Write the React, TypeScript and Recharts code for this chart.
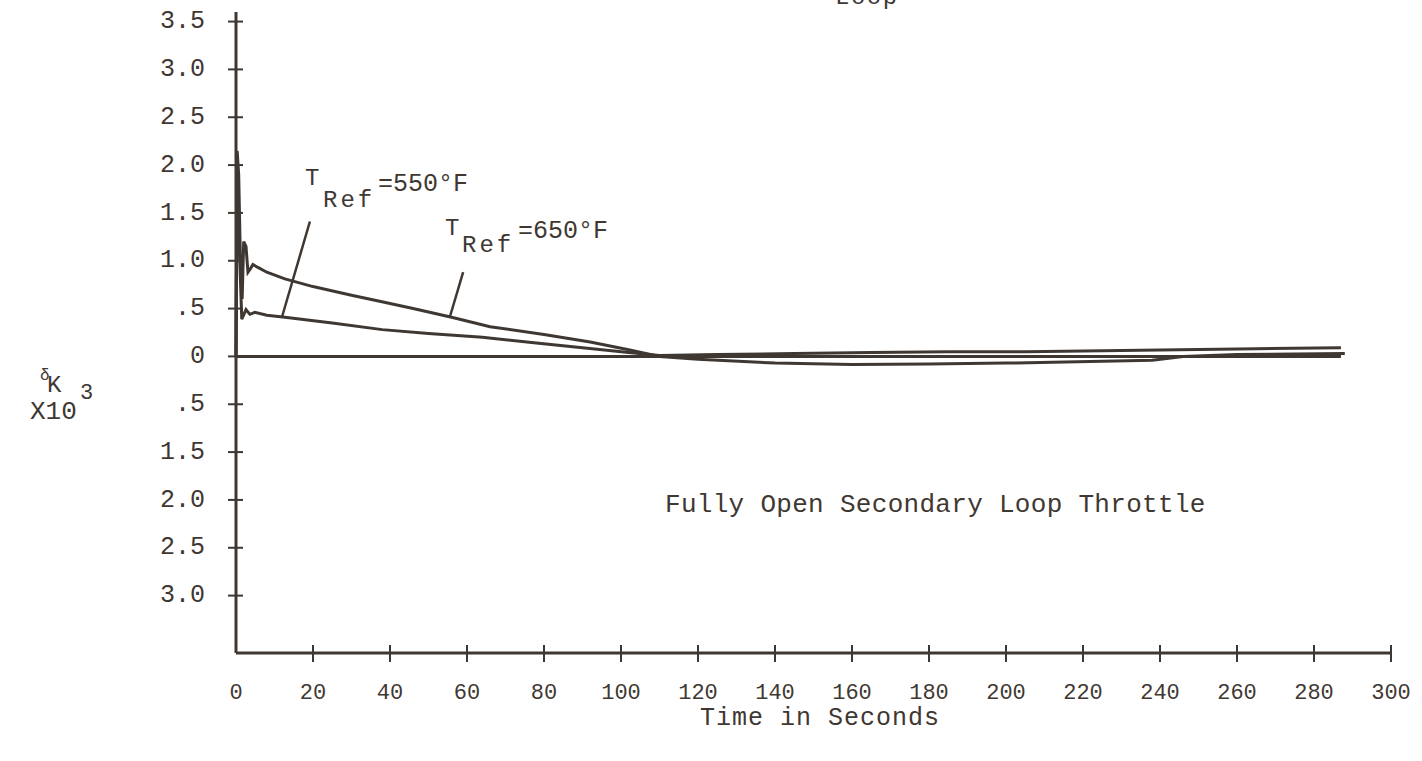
import { LineChart, Line, XAxis, YAxis, ReferenceLine } from "recharts";

// time (s) and delta-K (x10^3)
const time650 = [0, 0.3, 0.7, 1.2, 1.6, 2.0, 2.6, 3.1, 3.8, 4.4, 5.7, 8, 12.7, 20, 30, 37, 46, 56, 66, 80, 92, 102, 110, 120, 140, 160, 180, 200, 225, 238, 246, 260, 288];
const dk650 = [0, 2.15, 1.9, 0.9, 0.6, 1.2, 1.15, 0.88, 0.92, 0.96, 0.93, 0.88, 0.81, 0.73, 0.64, 0.58, 0.5, 0.41, 0.31, 0.23, 0.15, 0.07, 0.0, -0.03, -0.07, -0.085, -0.08, -0.07, -0.05, -0.04, 0.0, 0.02, 0.03];

const time550 = [0, 0.3, 0.8, 1.5, 2.6, 3.6, 4.9, 8, 12.7, 25, 38, 50, 64, 78, 90, 102, 110, 125, 145, 165, 185, 205, 225, 245, 265, 287];
const dk550 = [0, 2.1, 1.2, 0.39, 0.49, 0.44, 0.46, 0.43, 0.41, 0.35, 0.28, 0.24, 0.2, 0.14, 0.09, 0.04, 0.01, 0.02, 0.03, 0.04, 0.05, 0.05, 0.06, 0.07, 0.08, 0.09];

const xTicks = [0, 20, 40, 60, 80, 100, 120, 140, 160, 180, 200, 220, 240, 260, 280, 300];
// the original sheet labels the negative side oddly; kept as printed
const yTicks = [-2.5, -2, -1.5, -1, -0.5, 0, 0.5, 1, 1.5, 2, 2.5, 3, 3.5];
const yTickLabels = ["3.0", "2.5", "2.0", "1.5", ".5", "0", ".5", "1.0", "1.5", "2.0", "2.5", "3.0", "3.5"];

const pointer550 = [{ x: 19.2, y: 1.41 }, { x: 12, y: 0.42 }];
const pointer650 = [{ x: 59, y: 0.88 }, { x: 55.6, y: 0.42 }];
const zeroEnd = 287;

const data650 = time650.map((t, i) => ({ t, v: dk650[i] }));
const data550 = time550.map((t, i) => ({ t, v: dk550[i] }));

const INK = "#3f3832";
const FONT = "'Liberation Mono', 'DejaVu Sans Mono', monospace";

const YTick = (props: any) => {
  const { x, y, payload } = props;
  const ax = x + 8 + 23;
  const idx = yTicks.indexOf(payload.value);
  return (
    <g>
      <line x1={ax - 8} x2={ax + 7} y1={y} y2={y} stroke={INK} strokeWidth={2} />
      <text x={x} y={y} textAnchor="end" dominantBaseline="middle" fill={INK} fontSize={25} fontFamily={FONT}>
        {yTickLabels[idx]}
      </text>
    </g>
  );
};

const XTick = (props: any) => {
  const { x, y, payload } = props;
  const ay = y - 40;
  return (
    <g>
      {payload.value !== 0 && <line x1={x} x2={x} y1={ay - 8} y2={ay + 9} stroke={INK} strokeWidth={2} />}
      <text x={x} y={y} textAnchor="middle" dominantBaseline="middle" fill={INK} fontSize={22} fontFamily={FONT}>
        {payload.value}
      </text>
    </g>
  );
};

const txt = (left: number, top: number, size: number, spacing = 0): React.CSSProperties => ({
  position: "absolute",
  left,
  top,
  fontSize: size,
  lineHeight: `${size}px`,
  letterSpacing: spacing,
  fontFamily: FONT,
  color: INK,
  whiteSpace: "nowrap",
});

export default function App() {
  return (
    <div style={{ position: "fixed", left: 0, top: 0, width: 1422, height: 761, background: "#fff", overflow: "hidden" }}>
      <LineChart width={1422} height={761} margin={{ top: 12, right: 31, left: 0, bottom: 0 }}>
        <XAxis
          type="number"
          dataKey="t"
          domain={[0, 300]}
          ticks={xTicks}
          interval={0}
          axisLine={{ stroke: INK, strokeWidth: 3 }}
          tickLine={false}
          tickSize={8}
          tickMargin={32}
          height={108}
          tick={<XTick />}
          allowDuplicatedCategory={false}
        />
        <YAxis
          type="number"
          domain={[-3.1, 3.6]}
          ticks={yTicks}
          interval={0}
          width={236}
          axisLine={{ stroke: INK, strokeWidth: 3 }}
          tickLine={false}
          tickSize={8}
          tickMargin={23}
          tick={<YTick />}
        />
        <ReferenceLine segment={[{ x: 0, y: 0 }, { x: zeroEnd, y: 0 }]} stroke={INK} strokeWidth={3} />
        <ReferenceLine segment={pointer550} stroke={INK} strokeWidth={2.5} />
        <ReferenceLine segment={pointer650} stroke={INK} strokeWidth={2.5} />
        <Line data={data650} dataKey="v" type="linear" stroke={INK} strokeWidth={3} dot={false} isAnimationActive={false} />
        <Line data={data550} dataKey="v" type="linear" stroke={INK} strokeWidth={3} dot={false} isAnimationActive={false} />
      </LineChart>

      <div style={txt(835, -14, 24, 1.5)}>Loop</div>

      <div style={txt(305, 167, 24)}>T</div>
      <div style={txt(323, 189, 24, 3)}>Ref</div>
      <div style={txt(378, 172, 25)}>=550°F</div>

      <div style={txt(445, 217, 24)}>T</div>
      <div style={txt(462, 234, 24, 3)}>Ref</div>
      <div style={txt(518, 219, 25)}>=650°F</div>

      <div style={txt(40, 368, 16)}>δ</div>
      <div style={txt(47, 374, 24)}>K</div>
      <div style={txt(30, 399, 26)}>X10</div>
      <div style={txt(80, 383, 22)}>3</div>

      <div style={txt(665, 492, 26, 0.3)}>Fully Open Secondary Loop Throttle</div>
      <div style={txt(700, 706, 25, 1)}>Time in Seconds</div>
    </div>
  );
}
